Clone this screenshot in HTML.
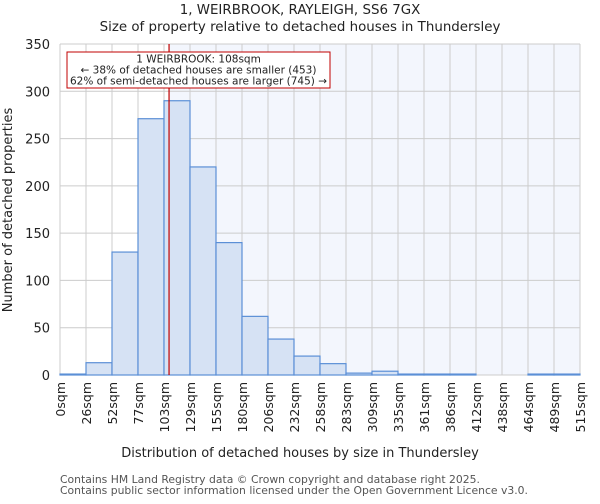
<!DOCTYPE html>
<html><head><meta charset="utf-8"><style>
body{margin:0;background:#fff;font-family:"DejaVu Sans","Liberation Sans",sans-serif}
svg text{font-family:"DejaVu Sans","Liberation Sans",sans-serif}
</style></head><body>
<svg id="chart" width="600" height="500" viewBox="0 0 600 500" xmlns="http://www.w3.org/2000/svg">
<text x="300" y="14" text-anchor="middle" font-size="13.4" fill="#222">1, WEIRBROOK, RAYLEIGH, SS6 7GX</text>
<text x="300" y="31" text-anchor="middle" font-size="13.4" fill="#222">Size of property relative to detached houses in Thundersley</text>
<g id="plot"></g>
<text x="300" y="457" text-anchor="middle" font-size="13" fill="#222">Distribution of detached houses by size in Thundersley</text>
<text transform="translate(12,210) rotate(-90)" text-anchor="middle" font-size="13" fill="#222">Number of detached properties</text>
<text x="60" y="483" font-size="10.8" fill="#555">Contains HM Land Registry data © Crown copyright and database right 2025.</text>
<text x="60" y="494" font-size="10.8" fill="#555">Contains public sector information licensed under the Open Government Licence v3.0.</text>
</svg>
<script>
const tickLabels=["0sqm","26sqm","52sqm","77sqm","103sqm","129sqm","155sqm","180sqm","206sqm","232sqm","258sqm","283sqm","309sqm","335sqm","361sqm","386sqm","412sqm","438sqm","464sqm","489sqm","515sqm"];
const counts=[1,13,130,271,290,220,140,62,38,20,12,2,4,1,1,1,0,0,1,1];
const yTicks=[0,50,100,150,200,250,300,350];
const propertySize=108;
const binWidth=25.75;
const X0=60,X1=580,Y0=375,Y1=44,YMAX=350;
const nb=counts.length;
const xs=i=>X0+i*(X1-X0)/nb;
const xv=v=>X0+v/binWidth*(X1-X0)/nb;
const ys=v=>Y0-v*(Y0-Y1)/YMAX;
const NS="http://www.w3.org/2000/svg";
const g=document.getElementById('plot');
function mk(t,a){const e=document.createElementNS(NS,t);for(const k in a)e.setAttribute(k,a[k]);g.appendChild(e);return e;}
const px=xv(propertySize);
let e=mk('rect',{x:px,y:Y1,width:X1-px,height:Y0-Y1,fill:'#f3f6fd'});


for(let i=0;i<=nb;i++){e=mk('line',{x1:xs(i),x2:xs(i),y1:Y1,y2:Y0,stroke:'#cccccc','stroke-width':1});

}
yTicks.forEach(v=>{e=mk('line',{x1:X0,x2:X1,y1:ys(v),y2:ys(v),stroke:'#cccccc','stroke-width':1});


e=mk('text',{x:X0-10,y:ys(v)+5,'text-anchor':'end','font-size':13,fill:'#222'});e.textContent=v;

});
counts.forEach((c,i)=>{e=mk('rect',{x:xs(i),y:ys(c),width:xs(i+1)-xs(i),height:Y0-ys(c),fill:'#d6e2f4',stroke:'#5b8fd6','stroke-width':1.2});

});
tickLabels.forEach((t,i)=>{e=mk('text',{transform:`translate(${xs(i)+5},382) rotate(-90)`,'text-anchor':'end','font-size':12.5,fill:'#222'});e.textContent=t;

});
e=mk('line',{x1:px,x2:px,y1:Y1,y2:Y0,stroke:'#c00000','stroke-width':1.2});


e=mk('rect',{x:67,y:52,width:263,height:36,fill:'#fff',stroke:'#c00000','stroke-width':1});


["1 WEIRBROOK: 108sqm","← 38% of detached houses are smaller (453)","62% of semi-detached houses are larger (745) →"].forEach((t,i)=>{
e=mk('text',{x:198.5,y:62.5+i*11,'text-anchor':'middle','font-size':10.5,fill:'#222'});e.textContent=t;

});
</script>
</body></html>
